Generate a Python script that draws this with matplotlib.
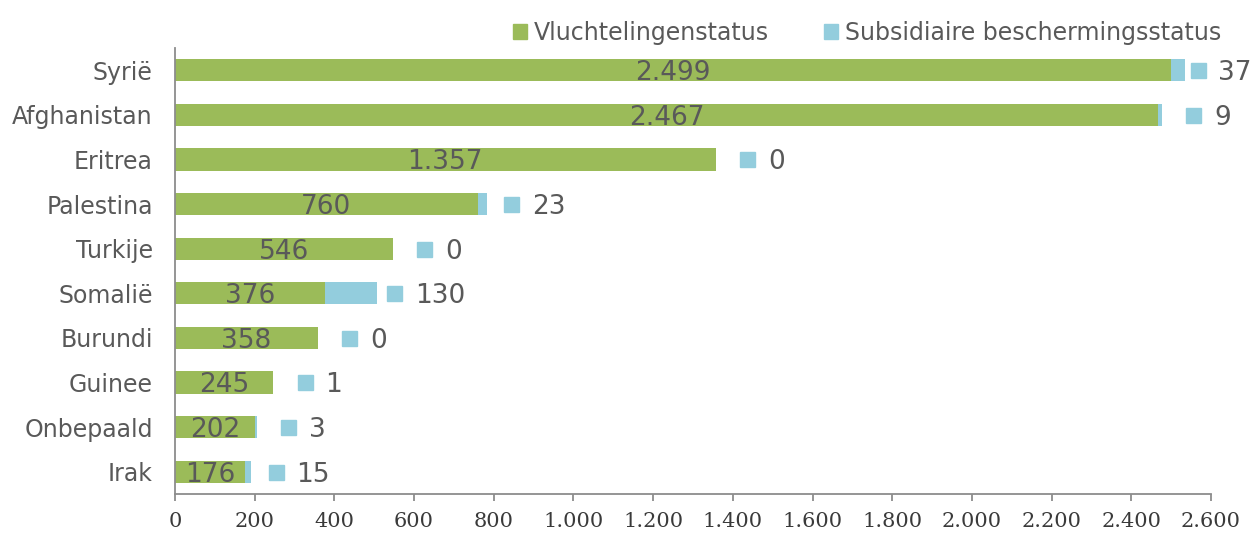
import matplotlib
matplotlib.use("Agg")
import matplotlib.pyplot as plt
from matplotlib.patches import Patch
from matplotlib.ticker import FuncFormatter
import matplotlib.transforms as mtransforms

# data
landen = ["Syrië", "Afghanistan", "Eritrea", "Palestina", "Turkije",
          "Somalië", "Burundi", "Guinee", "Onbepaald", "Irak"]
vluchteling = [2499, 2467, 1357, 760, 546, 376, 358, 245, 202, 176]
subsidiair = [37, 9, 0, 23, 0, 130, 0, 1, 3, 15]

groen = "#9BBB59"
blauw = "#93CDDD"
grijs = "#595959"
as_kleur = "#8C8C8C"


def punt(x, pos):
    return "{:,.0f}".format(x).replace(",", ".")


fig = plt.figure(figsize=(12.55, 5.4), dpi=100)
ax = fig.add_axes([175 / 1255, 46 / 540, 1036 / 1255, 446 / 540])

y = list(range(len(landen)))
ax.barh(y, vluchteling, height=0.5, color=groen)
ax.barh(y, subsidiair, left=vluchteling, height=0.5, color=blauw)

ax.set_xlim(0, 2600)
ax.set_ylim(9.5, -0.5)
ax.set_xticks(range(0, 2601, 200))
ax.xaxis.set_major_formatter(FuncFormatter(punt))
ax.set_yticks(y)
ax.set_yticklabels(landen)

for s in ["top", "right"]:
    ax.spines[s].set_visible(False)
for s in ["left", "bottom"]:
    ax.spines[s].set_color(as_kleur)
    ax.spines[s].set_linewidth(1.3)
ax.tick_params(axis="y", length=0, pad=16, labelsize=17, labelcolor=grijs)
ax.tick_params(axis="x", length=5, width=1.3, color=as_kleur, direction="out",
               pad=8, labelsize=15, labelcolor="#3a3a3a")
for t in ax.get_xticklabels():
    t.set_family("DejaVu Serif")

# labels in de groene balken
omlaag = mtransforms.offset_copy(ax.transData, fig=fig, x=0, y=-3, units="dots")
for i, v in enumerate(vluchteling):
    ax.text(v / 2, i, punt(v, None), ha="center", va="center",
            fontsize=19, color=grijs, transform=omlaag)

# labels voor subsidiaire status, met vierkantje ervoor
fig.canvas.draw()
cijfer_px = 14
rechts_max = 1246
for i, (v, s) in enumerate(zip(vluchteling, subsidiair)):
    eind = v + s
    eind_px = ax.transData.transform((eind, i))[0]
    breedte = 15 + 13 + cijfer_px * len(str(s))
    midden = 45
    if eind_px + midden + breedte / 2 > rechts_max:
        midden = rechts_max - eind_px - breedte / 2
    dx = midden - breedte / 2 + 7.5
    tr = mtransforms.offset_copy(ax.transData, fig=fig, x=dx, y=0, units="dots")
    ax.plot([eind], [i], marker="s", markersize=10.8, color=blauw,
            transform=tr, clip_on=False, linestyle="none")
    tr2 = mtransforms.offset_copy(ax.transData, fig=fig, x=dx + 21, y=-3, units="dots")
    ax.text(eind, i, str(s), ha="left", va="center", fontsize=19,
            color=grijs, transform=tr2, clip_on=False)

handles = [Patch(color=groen, label="Vluchtelingenstatus"),
           Patch(color=blauw, label="Subsidiaire beschermingsstatus")]
fig.legend(handles=handles, loc="upper right", bbox_to_anchor=(0.99, 1.0),
           ncol=2, frameon=False, fontsize=17, labelcolor=grijs,
           handlelength=0.6, handleheight=0.6, handletextpad=0.3,
           columnspacing=2.3)

fig.savefig("out.png", dpi=100)
